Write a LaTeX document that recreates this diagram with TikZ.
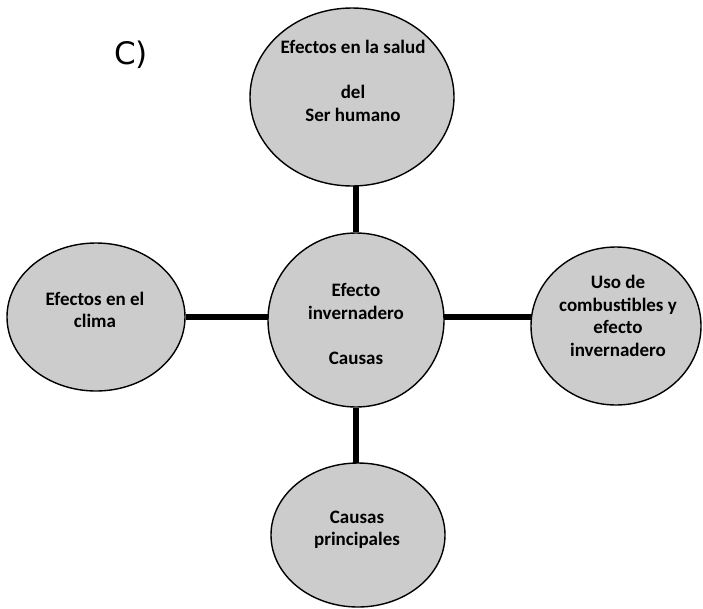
\documentclass[tikz,border=0pt]{standalone}
\usepackage{fontspec}
\setmainfont{Carlito}
\newfontfamily\labelfont{DejaVu Sans}
\usetikzlibrary{shapes.geometric,backgrounds}
\definecolor{bubble}{HTML}{CCCCCC}
\tikzset{
  bubblebox/.style={ellipse, draw=black, line width=1.4pt, fill=bubble, inner sep=0pt},
  txt/.style={align=center, font=\bfseries\fontsize{19}{22.5}\selectfont, inner sep=0pt},
  conn/.style={line width=5.5pt, black}
}
\begin{document}
\begin{tikzpicture}[x=1pt,y=-1pt]
\useasboundingbox (0,0) rectangle (703,608);
\node[bubblebox, minimum width=204pt, minimum height=178pt] (top) at (352,97) {};
\node[bubblebox, minimum width=176pt, minimum height=174pt] (ctr) at (356,320) {};
\node[bubblebox, minimum width=178pt, minimum height=148pt] (left) at (96,317) {};
\node[bubblebox, minimum width=170pt, minimum height=158pt] (right) at (616,326) {};
\node[bubblebox, minimum width=174pt, minimum height=144pt] (bot) at (358,535) {};
\begin{pgfonlayer}{background}
\draw[conn] (ctr) -- (ctr |- top);
\draw[conn] (ctr) -- (ctr |- bot);
\draw[conn] (left) -- (left -| ctr);
\draw[conn] (left -| ctr) -- (left -| right);
\end{pgfonlayer}
\node[txt] (ttop) at (353,81) {Efectos en la salud\\[22.5pt]del\\Ser humano};
\node[txt] (tctr) at (356,324) {Efecto\\invernadero\\[22.5pt]Causas};
\node[txt] (tleft) at (95,310) {Efectos en el\\clima};
\node[txt] (tright) at (618,316) {Uso de\\combustibles y\\efecto\\invernadero};
\node[txt] (tbot) at (357,530) {Causas\\principales};
\node[font=\labelfont\fontsize{31}{36}\selectfont, inner sep=0pt] (lab) at (131,54.5) {C)};
\end{tikzpicture}
\end{document}
